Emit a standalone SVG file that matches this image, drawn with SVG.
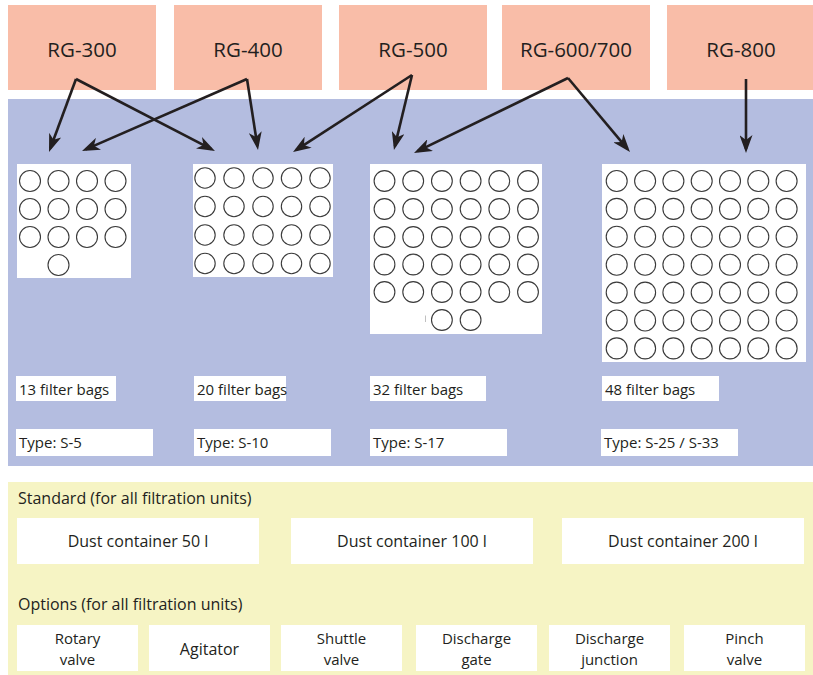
<svg xmlns="http://www.w3.org/2000/svg" width="813" height="675" viewBox="0 0 813 675">
<style>
.hdr{fill:#F9BDA8}
.hdrt{font-family:"Open Sans","Noto Sans","Liberation Sans",sans-serif;font-size:20.5px;fill:#231F20;text-anchor:middle}
.wb{fill:#FFFFFF}
.c{fill:#FFFFFF;stroke:#3a3a3a;stroke-width:1.1}
.t{font-family:"Open Sans","Noto Sans","Liberation Sans",sans-serif;font-size:15px;fill:#231F20}
.tb{font-family:"Open Sans","Noto Sans","Liberation Sans",sans-serif;font-size:16px;fill:#231F20}
.tc{font-family:"Open Sans","Noto Sans","Liberation Sans",sans-serif;font-size:16px;fill:#231F20;text-anchor:middle}
.to{font-family:"Open Sans","Noto Sans","Liberation Sans",sans-serif;font-size:15px;fill:#231F20;text-anchor:middle}
.arr{stroke:#231F20;stroke-width:2.6;fill:none;marker-end:url(#ah)}
</style>
<defs>
<marker id="ah" viewBox="0 0 18 13" refX="14" refY="6.5" markerWidth="18" markerHeight="13" markerUnits="userSpaceOnUse" orient="auto">
<path d="M0,0 L18,6.5 L0,13 L5,6.5 z" fill="#231F20"/>
</marker>
</defs>
<rect x="0" y="0" width="813" height="675" fill="#FFFFFF"/>
<!-- blue panel -->
<rect x="8" y="99" width="805" height="367" fill="#B4BDE0"/>
<!-- yellow panel -->
<rect x="8" y="482" width="805" height="193" fill="#F6F4C4"/>

<g id="rg300"><rect class="hdr" x="8" y="5" width="148" height="85"/><text class="hdrt" x="82" y="57">RG-300</text></g>
<g id="rg400"><rect class="hdr" x="174" y="5" width="148" height="85"/><text class="hdrt" x="248" y="57">RG-400</text></g>
<g id="rg500"><rect class="hdr" x="339" y="5" width="148" height="85"/><text class="hdrt" x="413" y="57">RG-500</text></g>
<g id="rg600"><rect class="hdr" x="502" y="5" width="148" height="85"/><text class="hdrt" x="576" y="57">RG-600/700</text></g>
<g id="rg800"><rect class="hdr" x="667" y="5" width="146" height="85"/><text class="hdrt" x="741" y="57">RG-800</text></g>

<g id="grid13">
<rect class="wb" x="17" y="164" width="114" height="114"/>
<circle class="c" cx="30" cy="181" r="10.5"/><circle class="c" cx="58.5" cy="181" r="10.5"/><circle class="c" cx="87" cy="181" r="10.5"/><circle class="c" cx="115.5" cy="181" r="10.5"/>
<circle class="c" cx="30" cy="209" r="10.5"/><circle class="c" cx="58.5" cy="209" r="10.5"/><circle class="c" cx="87" cy="209" r="10.5"/><circle class="c" cx="115.5" cy="209" r="10.5"/>
<circle class="c" cx="30" cy="237" r="10.5"/><circle class="c" cx="58.5" cy="237" r="10.5"/><circle class="c" cx="87" cy="237" r="10.5"/><circle class="c" cx="115.5" cy="237" r="10.5"/>
<circle class="c" cx="58.5" cy="265" r="10.5"/>
<rect class="wb" x="16" y="376" width="100" height="25"/><text class="t" x="19" y="395">13 filter bags</text>
<rect class="wb" x="16" y="429" width="137" height="27"/><text class="t" x="19" y="448">Type: S-5</text>
</g>

<g id="grid20">
<rect class="wb" x="193" y="164" width="140" height="113"/>
<circle class="c" cx="205" cy="178" r="10.2"/><circle class="c" cx="234" cy="178" r="10.2"/><circle class="c" cx="263" cy="178" r="10.2"/><circle class="c" cx="291.5" cy="178" r="10.2"/><circle class="c" cx="320" cy="178" r="10.2"/>
<circle class="c" cx="205" cy="206.5" r="10.2"/><circle class="c" cx="234" cy="206.5" r="10.2"/><circle class="c" cx="263" cy="206.5" r="10.2"/><circle class="c" cx="291.5" cy="206.5" r="10.2"/><circle class="c" cx="320" cy="206.5" r="10.2"/>
<circle class="c" cx="205" cy="235" r="10.2"/><circle class="c" cx="234" cy="235" r="10.2"/><circle class="c" cx="263" cy="235" r="10.2"/><circle class="c" cx="291.5" cy="235" r="10.2"/><circle class="c" cx="320" cy="235" r="10.2"/>
<circle class="c" cx="205" cy="263.5" r="10.2"/><circle class="c" cx="234" cy="263.5" r="10.2"/><circle class="c" cx="263" cy="263.5" r="10.2"/><circle class="c" cx="291.5" cy="263.5" r="10.2"/><circle class="c" cx="320" cy="263.5" r="10.2"/>
<rect class="wb" x="194" y="376" width="92" height="25"/><text class="t" x="197" y="395">20 filter bags</text>
<rect class="wb" x="194" y="429" width="137" height="27"/><text class="t" x="197" y="448">Type: S-10</text>
</g>

<g id="grid32">
<rect class="wb" x="370" y="164" width="172" height="170"/>
<circle class="c" cx="384.5" cy="181" r="10.4"/><circle class="c" cx="413.2" cy="181" r="10.4"/><circle class="c" cx="441.9" cy="181" r="10.4"/><circle class="c" cx="470.6" cy="181" r="10.4"/><circle class="c" cx="499.3" cy="181" r="10.4"/><circle class="c" cx="528" cy="181" r="10.4"/>
<circle class="c" cx="384.5" cy="209" r="10.4"/><circle class="c" cx="413.2" cy="209" r="10.4"/><circle class="c" cx="441.9" cy="209" r="10.4"/><circle class="c" cx="470.6" cy="209" r="10.4"/><circle class="c" cx="499.3" cy="209" r="10.4"/><circle class="c" cx="528" cy="209" r="10.4"/>
<circle class="c" cx="384.5" cy="237" r="10.4"/><circle class="c" cx="413.2" cy="237" r="10.4"/><circle class="c" cx="441.9" cy="237" r="10.4"/><circle class="c" cx="470.6" cy="237" r="10.4"/><circle class="c" cx="499.3" cy="237" r="10.4"/><circle class="c" cx="528" cy="237" r="10.4"/>
<circle class="c" cx="384.5" cy="264.5" r="10.4"/><circle class="c" cx="413.2" cy="264.5" r="10.4"/><circle class="c" cx="441.9" cy="264.5" r="10.4"/><circle class="c" cx="470.6" cy="264.5" r="10.4"/><circle class="c" cx="499.3" cy="264.5" r="10.4"/><circle class="c" cx="528" cy="264.5" r="10.4"/>
<circle class="c" cx="384.5" cy="292" r="10.4"/><circle class="c" cx="413.2" cy="292" r="10.4"/><circle class="c" cx="441.9" cy="292" r="10.4"/><circle class="c" cx="470.6" cy="292" r="10.4"/><circle class="c" cx="499.3" cy="292" r="10.4"/><circle class="c" cx="528" cy="292" r="10.4"/>
<circle class="c" cx="441.9" cy="320" r="10.4"/><circle class="c" cx="470.6" cy="320" r="10.4"/>
<line x1="425.5" y1="315.5" x2="425.5" y2="322" stroke="#b0b0b0" stroke-width="0.8"/>
<rect class="wb" x="370" y="376" width="116" height="25"/><text class="t" x="373" y="395">32 filter bags</text>
<rect class="wb" x="370" y="429" width="137" height="27"/><text class="t" x="373" y="448">Type: S-17</text>
</g>

<g id="grid48">
<rect class="wb" x="602" y="164" width="204" height="198"/>
<circle class="c" cx="616.7" cy="181" r="10.5"/><circle class="c" cx="645.1" cy="181" r="10.5"/><circle class="c" cx="673.4" cy="181" r="10.5"/><circle class="c" cx="701.7" cy="181" r="10.5"/><circle class="c" cx="730" cy="181" r="10.5"/><circle class="c" cx="758.3" cy="181" r="10.5"/><circle class="c" cx="786.6" cy="181" r="10.5"/>
<circle class="c" cx="616.7" cy="208.9" r="10.5"/><circle class="c" cx="645.1" cy="208.9" r="10.5"/><circle class="c" cx="673.4" cy="208.9" r="10.5"/><circle class="c" cx="701.7" cy="208.9" r="10.5"/><circle class="c" cx="730" cy="208.9" r="10.5"/><circle class="c" cx="758.3" cy="208.9" r="10.5"/><circle class="c" cx="786.6" cy="208.9" r="10.5"/>
<circle class="c" cx="616.7" cy="236.8" r="10.5"/><circle class="c" cx="645.1" cy="236.8" r="10.5"/><circle class="c" cx="673.4" cy="236.8" r="10.5"/><circle class="c" cx="701.7" cy="236.8" r="10.5"/><circle class="c" cx="730" cy="236.8" r="10.5"/><circle class="c" cx="758.3" cy="236.8" r="10.5"/><circle class="c" cx="786.6" cy="236.8" r="10.5"/>
<circle class="c" cx="616.7" cy="264.7" r="10.5"/><circle class="c" cx="645.1" cy="264.7" r="10.5"/><circle class="c" cx="673.4" cy="264.7" r="10.5"/><circle class="c" cx="701.7" cy="264.7" r="10.5"/><circle class="c" cx="730" cy="264.7" r="10.5"/><circle class="c" cx="758.3" cy="264.7" r="10.5"/><circle class="c" cx="786.6" cy="264.7" r="10.5"/>
<circle class="c" cx="616.7" cy="292.6" r="10.5"/><circle class="c" cx="645.1" cy="292.6" r="10.5"/><circle class="c" cx="673.4" cy="292.6" r="10.5"/><circle class="c" cx="701.7" cy="292.6" r="10.5"/><circle class="c" cx="730" cy="292.6" r="10.5"/><circle class="c" cx="758.3" cy="292.6" r="10.5"/><circle class="c" cx="786.6" cy="292.6" r="10.5"/>
<circle class="c" cx="616.7" cy="320.5" r="10.5"/><circle class="c" cx="645.1" cy="320.5" r="10.5"/><circle class="c" cx="673.4" cy="320.5" r="10.5"/><circle class="c" cx="701.7" cy="320.5" r="10.5"/><circle class="c" cx="730" cy="320.5" r="10.5"/><circle class="c" cx="758.3" cy="320.5" r="10.5"/><circle class="c" cx="786.6" cy="320.5" r="10.5"/>
<circle class="c" cx="616.7" cy="348.4" r="10.5"/><circle class="c" cx="645.1" cy="348.4" r="10.5"/><circle class="c" cx="673.4" cy="348.4" r="10.5"/><circle class="c" cx="701.7" cy="348.4" r="10.5"/><circle class="c" cx="730" cy="348.4" r="10.5"/><circle class="c" cx="758.3" cy="348.4" r="10.5"/><circle class="c" cx="786.6" cy="348.4" r="10.5"/>
<rect class="wb" x="602" y="376" width="117" height="25"/><text class="t" x="605" y="395">48 filter bags</text>
<rect class="wb" x="601" y="429" width="137" height="27"/><text class="t" x="604" y="448">Type: S-25 / S-33</text>
</g>

<g id="connectors">
<line class="arr" x1="76" y1="79" x2="50.4" y2="148.2"/>
<line class="arr" x1="76" y1="79" x2="211.4" y2="149.2"/>
<line class="arr" x1="247" y1="79" x2="85.7" y2="149.4"/>
<line class="arr" x1="247" y1="79" x2="257.4" y2="146"/>
<line class="arr" x1="412" y1="75" x2="296.4" y2="149.8"/>
<line class="arr" x1="412" y1="75" x2="394.9" y2="146.1"/>
<line class="arr" x1="568" y1="78" x2="417.6" y2="151.2"/>
<line class="arr" x1="568" y1="78" x2="627.4" y2="148.9"/>
<line class="arr" x1="746" y1="79" x2="746" y2="149"/>
</g>

<g id="standard">
<text class="tb" x="18" y="504">Standard (for all filtration units)</text>
<g id="dust50"><rect class="wb" x="17" y="518" width="242" height="46"/><text class="tc" x="138" y="547">Dust container 50 l</text></g>
<g id="dust100"><rect class="wb" x="291" y="518" width="242" height="46"/><text class="tc" x="412" y="547">Dust container 100 l</text></g>
<g id="dust200"><rect class="wb" x="562" y="518" width="242" height="46"/><text class="tc" x="683" y="547">Dust container 200 l</text></g>
</g>

<g id="options">
<text class="tb" x="18" y="610">Options (for all filtration units)</text>
<g id="opt1"><rect class="wb" x="17" y="625" width="121" height="46"/><text class="to"><tspan x="77.5" y="644">Rotary</tspan><tspan x="77.5" y="664.6">valve</tspan></text></g>
<g id="opt2"><rect class="wb" x="149" y="625" width="121" height="46"/><text class="tc" x="209.5" y="655">Agitator</text></g>
<g id="opt3"><rect class="wb" x="281" y="625" width="121" height="46"/><text class="to"><tspan x="341.5" y="644">Shuttle</tspan><tspan x="341.5" y="664.6">valve</tspan></text></g>
<g id="opt4"><rect class="wb" x="416" y="625" width="121" height="46"/><text class="to"><tspan x="476.5" y="644">Discharge</tspan><tspan x="476.5" y="664.6">gate</tspan></text></g>
<g id="opt5"><rect class="wb" x="549" y="625" width="121" height="46"/><text class="to"><tspan x="609.5" y="644">Discharge</tspan><tspan x="609.5" y="664.6">junction</tspan></text></g>
<g id="opt6"><rect class="wb" x="684" y="625" width="121" height="46"/><text class="to"><tspan x="744.5" y="644">Pinch</tspan><tspan x="744.5" y="664.6">valve</tspan></text></g>
</g>
</svg>
